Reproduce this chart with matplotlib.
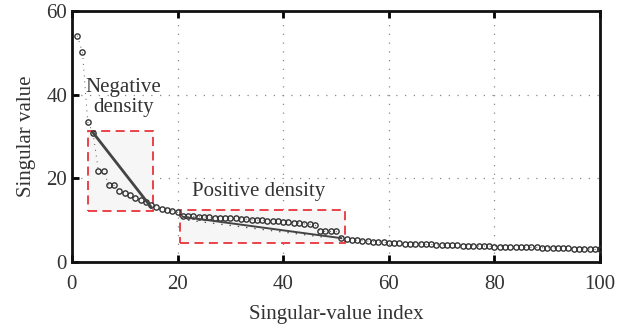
import numpy as np
import matplotlib.pyplot as plt
from matplotlib.patches import Rectangle

# singular values, index 1..100
idx = np.arange(1, 101)
sv = [
    54.1, 50.1, 33.4, 30.9, 21.8, 21.8, 18.3, 18.3, 17.0, 16.4,
    15.9, 15.4, 14.8, 14.4, 13.6, 13.1, 12.6, 12.4, 12.2, 11.9,
    11.0, 10.9, 10.9, 10.8, 10.8, 10.7, 10.6, 10.6, 10.5, 10.4,
    10.4, 10.3, 10.2, 10.1, 10.0, 10.0, 9.9, 9.8, 9.7, 9.6,
    9.5, 9.4, 9.3, 9.1, 9.0, 8.9, 7.4, 7.3, 7.3, 7.3,
    5.7, 5.4, 5.3, 5.2, 5.1, 5.0, 4.9, 4.8, 4.7, 4.6,
    4.5, 4.5, 4.4, 4.4, 4.3, 4.3, 4.2, 4.2, 4.1, 4.1,
    4.0, 4.0, 4.0, 3.9, 3.9, 3.9, 3.8, 3.8, 3.8, 3.7,
    3.7, 3.7, 3.6, 3.6, 3.6, 3.5, 3.5, 3.5, 3.4, 3.4,
    3.4, 3.3, 3.3, 3.3, 3.2, 3.2, 3.1, 3.1, 3.0, 3.0,
]

# highlighted regions: (x0, y0, x1, y1)
negBox = (3.0, 12.2, 15.3, 31.3)
posBox = (20.5, 4.5, 51.7, 12.4)
negLine = ([4, 15], [30.9, 13.1])
posLine = ([21, 51], [10.8, 5.7])
posDotted = ([22, 48], [10.0, 5.9])

plt.rcParams['font.family'] = ['Liberation Serif', 'DejaVu Serif']
textColor = "#333333"

fig, ax = plt.subplots(figsize=(6.31, 3.30), dpi=100)
fig.subplots_adjust(left=0.114, right=0.951, bottom=0.206, top=0.967)

for b in (negBox, posBox):
    ax.add_patch(Rectangle((b[0], b[1]), b[2] - b[0], b[3] - b[1],
                           facecolor="#f6f6f6", edgecolor="#e8343c",
                           linestyle=(0, (5, 3)), linewidth=1.3, zorder=1))

ax.plot(idx, sv, linestyle=(0, (1, 5)), color="#555555", linewidth=0.7,
        marker="o", markersize=3.8, markerfacecolor="none",
        markeredgecolor="#333333", markeredgewidth=1.0, zorder=3)

ax.plot(*negLine, color="#444444", linewidth=2, zorder=4)
ax.plot(*posLine, color="#444444", linewidth=1.4, zorder=4)
ax.plot(*posDotted, color="#555555", linewidth=1, linestyle=(0, (1, 5)), zorder=2)

ax.text(9.8, 39.3, "Negative\ndensity", ha="center", va="center",
        fontsize=15, color=textColor, linespacing=1.05)
ax.text(35.4, 16.9, "Positive density", ha="center", va="center",
        fontsize=15, color=textColor)

ax.set_xlim(0, 100)
ax.set_ylim(0, 60)
ax.set_xticks([0, 20, 40, 60, 80, 100])
ax.set_yticks([0, 20, 40, 60])
ax.grid(True, color="#888888", linestyle=(0, (1, 6)), linewidth=0.9)
ax.set_axisbelow(True)

ax.set_xlabel("Singular-value index", fontsize=15, color=textColor, labelpad=8)
ax.set_ylabel("Singular value", fontsize=15, color=textColor, labelpad=7)
ax.tick_params(direction="in", length=5, width=2, labelsize=15,
               labelcolor=textColor, top=True, right=False)
ax.tick_params(axis="x", pad=9)
for s in ax.spines.values():
    s.set_linewidth(2)
    s.set_color("#111111")

fig.savefig("out.png", dpi=100)
